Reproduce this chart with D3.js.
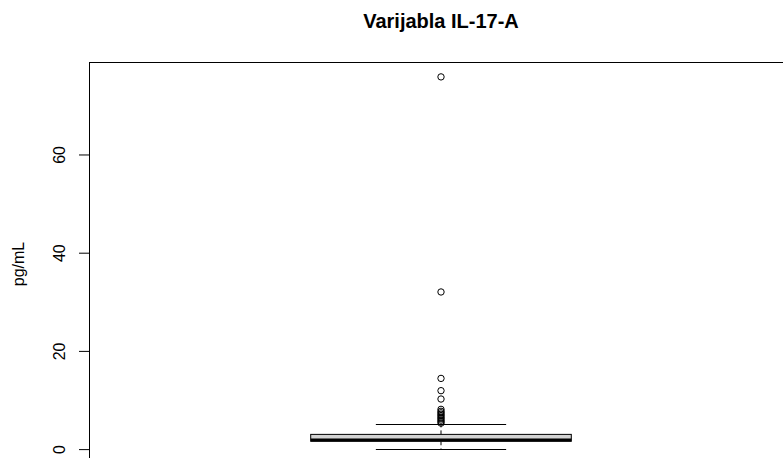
<!DOCTYPE html>
<html>
<head>
<meta charset="utf-8">
<script src="https://cdn.jsdelivr.net/npm/d3@7"></script>
<style>
  html, body { margin: 0; padding: 0; background: #fff; }
  svg { display: block; font-family: "Liberation Sans", Arial, sans-serif; }
</style>
</head>
<body>
<svg id="chart" width="783" height="458"></svg>
<script>
// ---- data ----
const title = "Varijabla IL-17-A";
const yLabel = "pg/mL";
const categories = ["IL-17-A"];
const boxStats = [0.05, 1.6, 1.85, 3.0, 5.1]; // lower whisker, Q1, median, Q3, upper whisker
const outliers = [75.8, 32.0, 14.4, 11.9, 10.2, 8.1, 7.7, 7.4, 7.1, 6.8, 6.5, 6.2, 5.9, 5.6, 5.3];
const yTicks = [0, 20, 40, 60];

// ---- layout ----
const svg = d3.select("#chart");
const plot = { left: 89, top: 62, right: 793, bottom: 464 };

const yMin = 0, yMax = d3.max(outliers);
const pad = (yMax - yMin) * 0.04;
const y = d3.scaleLinear().domain([yMin - pad, yMax + pad]).range([plot.bottom, plot.top]);
const x = d3.scalePoint().domain(categories).range([plot.left, plot.right]).padding(0.5);

const boxHalf = 130.3;
const capHalf = boxHalf / 2;

// title
svg.append("text")
  .attr("x", 441).attr("y", 28)
  .attr("text-anchor", "middle")
  .attr("font-weight", "bold")
  .attr("font-size", 20)
  .text(title);

// y label
svg.append("text")
  .attr("transform", `translate(24, ${(plot.top + plot.bottom) / 2 + 1}) rotate(-90)`)
  .attr("text-anchor", "middle")
  .attr("font-size", 16)
  .text(yLabel);

// axis
const axis = d3.axisLeft(y).tickValues(yTicks).tickSize(10).tickPadding(0).tickFormat(d3.format("d"));
const gAxis = svg.append("g").attr("transform", `translate(${plot.left},0)`).call(axis);
gAxis.select(".domain").remove();
gAxis.selectAll(".tick line").attr("stroke", "#000");
gAxis.selectAll(".tick text")
  .attr("font-size", 16)
  .attr("font-family", "Liberation Sans, Arial, sans-serif")
  .attr("fill", "#000")
  .attr("text-anchor", "middle")
  .attr("dy", null)
  .attr("x", null)
  .attr("transform", "translate(-24,0) rotate(-90)");

// plot frame
svg.append("rect")
  .attr("x", plot.left + 0.5).attr("y", plot.top + 0.5)
  .attr("width", plot.right - plot.left).attr("height", plot.bottom - plot.top)
  .attr("fill", "none").attr("stroke", "#000").attr("stroke-width", 1);

const cx = x(categories[0]);
const [lw, q1, med, q3, uw] = boxStats;
const g = svg.append("g");

// whisker lines (dashed)
g.append("line").attr("x1", cx).attr("x2", cx).attr("y1", y(q3)).attr("y2", y(uw))
  .attr("stroke", "#000").attr("stroke-dasharray", "4,3");
g.append("line").attr("x1", cx).attr("x2", cx).attr("y1", y(q1)).attr("y2", y(lw))
  .attr("stroke", "#000").attr("stroke-dasharray", "4,3");
// caps
[lw, uw].forEach(v => {
  g.append("line").attr("x1", cx - capHalf).attr("x2", cx + capHalf)
    .attr("y1", Math.round(y(v)) + 0.5).attr("y2", Math.round(y(v)) + 0.5)
    .attr("stroke", "#000");
});
// box
g.append("rect")
  .attr("x", cx - boxHalf).attr("width", boxHalf * 2)
  .attr("y", y(q3)).attr("height", y(q1) - y(q3))
  .attr("fill", "#d3d3d3").attr("stroke", "#000").attr("stroke-width", 1);
// median
g.append("line").attr("x1", cx - boxHalf).attr("x2", cx + boxHalf)
  .attr("y1", y(med)).attr("y2", y(med))
  .attr("stroke", "#000").attr("stroke-width", 3);

// outliers
g.selectAll("circle.out").data(outliers).enter().append("circle")
  .attr("class", "out")
  .attr("cx", cx).attr("cy", d => y(d))
  .attr("r", 3.2)
  .attr("fill", "none").attr("stroke", "#000").attr("stroke-width", 1);
</script>
</body>
</html>
